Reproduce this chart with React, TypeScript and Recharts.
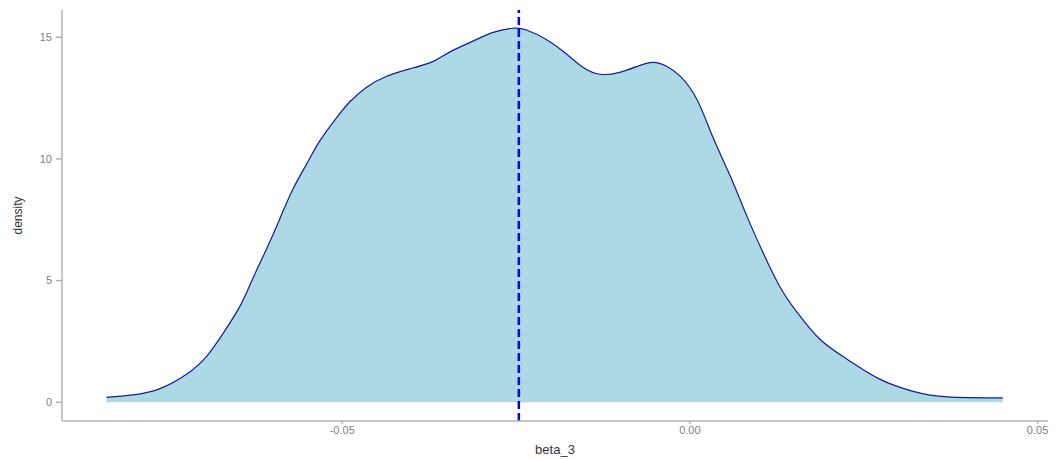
import React from 'react';
import { Area, AreaChart, Label, ReferenceLine, XAxis, YAxis } from 'recharts';

const betaValues = [
	-0.0839, -0.0801, -0.0763, -0.0724, -0.0695, -0.0672, -0.0647, -0.0629, -0.0609, -0.059,
	-0.0571, -0.0551, -0.0532, -0.0508, -0.0489, -0.0465, -0.0436, -0.0403, -0.037, -0.0345,
	-0.0312, -0.0283, -0.0255, -0.0235, -0.0206, -0.0177, -0.0154, -0.0129, -0.0101, -0.0076,
	-0.0053, -0.0033, -0.0014, 0.001, 0.0033, 0.0058, 0.0082, 0.0105, 0.0129, 0.0154,
	0.0187, 0.0226, 0.0273, 0.0321, 0.037, 0.045,
];
const densityValues = [
	0.2, 0.3, 0.55, 1.15, 1.89, 2.8, 3.95, 5.06, 6.29, 7.52,
	8.75, 9.8, 10.75, 11.7, 12.35, 12.95, 13.4, 13.7, 14.0, 14.4,
	14.84, 15.2, 15.37, 15.3, 14.9, 14.3, 13.77, 13.48, 13.56, 13.8,
	13.97, 13.8, 13.4, 12.45, 10.9, 9.3, 7.65, 6.16, 4.77, 3.7,
	2.59, 1.77, 0.95, 0.45, 0.22, 0.18,
];
const meanBeta = -0.0246;
const xTicks = [-0.05, 0, 0.05];
const yTicks = [0, 5, 10, 15];

const data = betaValues.map((x, i) => ({ x, density: densityValues[i] }));

const axisColor = '#b3b3b3';
const tickStyle = { fill: '#7f7f7f', fontSize: 11, fontFamily: 'Liberation Sans, Arial, sans-serif' };

export default function App() {
	return (
		<AreaChart
			width={1055}
			height={452}
			data={data}
			margin={{ top: 2, right: 15, left: 0, bottom: 0 }}
		>
			<XAxis dataKey="x"
			       type="number"
			       domain={[-0.0903, 0.0515]}
			       allowDataOverflow
			       ticks={xTicks}
			       tickFormatter={(v: number) => v.toFixed(2)}
			       height={39}
			       stroke={axisColor}
			       strokeWidth={1.5}
			       tickSize={3}
			       tickMargin={2}
			       tick={tickStyle}>
				<Label value="beta_3" position="insideBottom" offset={6}
				       style={{ fill: '#333', fontSize: 13, fontFamily: 'Liberation Sans, Arial, sans-serif' }} />
			</XAxis>
			<YAxis type="number"
			       domain={[-0.77, 16.12]}
			       allowDataOverflow
			       ticks={yTicks}
			       width={54}
			       stroke={axisColor}
			       strokeWidth={1.5}
			       tickSize={6}
			       tickMargin={4}
			       tick={tickStyle}>
				<Label value="density" position="insideLeft" angle={-90} offset={10}
				       style={{ fill: '#333', fontSize: 12, textAnchor: 'middle', fontFamily: 'Liberation Sans, Arial, sans-serif' }} />
			</YAxis>
			<Area type="natural"
			      dataKey="density"
			      fill="#add8e6"
			      fillOpacity={1}
			      stroke="#1a1a8c"
			      strokeWidth={1.2}
			      isAnimationActive={false} />
			<ReferenceLine x={meanBeta} stroke="#0000ff" strokeWidth={2.5} strokeDasharray="8 4" />
		</AreaChart>
	);
}
